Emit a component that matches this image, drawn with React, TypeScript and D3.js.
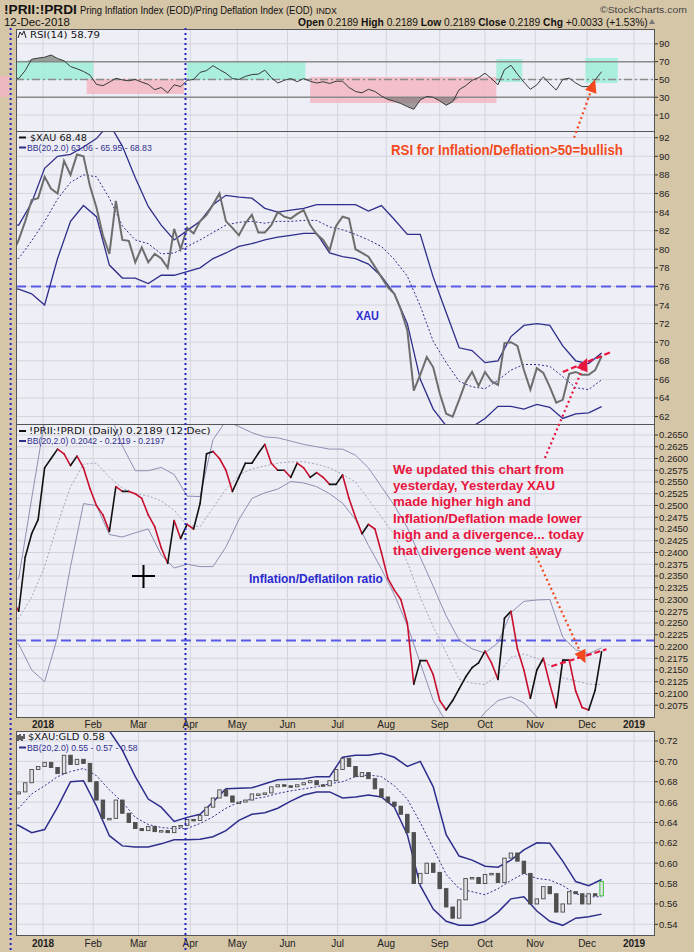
import React, { useEffect, useRef } from "react";
import * as d3 from "d3";

// sample dates: closes every 4 days, bands every 8 days
const priceDays = d3.timeDay.range(new Date(2017, 11, 13), new Date(2018, 11, 13), 4);
const bandDays = d3.timeDay.range(new Date(2017, 11, 9), new Date(2018, 11, 13), 8);

// RSI(14) of !PRII:!PRDI
const rsi = [
  53, 51, 60, 72.7, 74, 75, 77.5, 73.5, 71, 64.5,
  62, 59, 55, 44.5, 43, 47, 51.3, 49.5, 48.5, 50,
  47, 44.5, 38.5, 41, 35, 44, 42, 49, 50, 58,
  60, 65.5, 61, 57, 51, 50, 53.5, 55.5, 56, 60.5,
  52, 46, 49, 51, 47.5, 51, 48, 46, 47.5, 45.5,
  48, 48, 41, 36.5, 35, 39, 36.5, 31.5, 27.5, 25.5,
  23, 19.5, 16.5, 27, 31, 30, 26, 21, 25, 38.5,
  43, 49, 52, 57, 51, 44, 61, 66, 56, 47,
  39, 44, 53, 45, 38.2, 50, 51.5, 46, 42, 42,
  49.4, 58.79,
];

// $XAU close + BB(20,2)
const xau = [
  79.5, 81, 83, 85.3, 85.5, 87.8, 86.5, 86, 89.5, 88,
  90.2, 90, 86.8, 84.5, 81.5, 79.5, 85.2, 81, 80.9, 78.6,
  80.2, 78.6, 79.5, 79, 78, 82.2, 80, 82.3, 81.7, 83,
  83.7, 84.8, 86, 83, 82.3, 81.5, 82.8, 83.7, 81.8, 81.8,
  82.6, 84, 83.5, 83.3, 83.8, 84.2, 82.6, 81.6, 81, 79.9,
  82.5, 83.5, 83.3, 80, 79.6, 79.2, 78.1, 77, 75.9, 75.2,
  73.5, 71.3, 64.8, 66.5, 68.4, 67.3, 64.5, 62.3, 62, 63.8,
  65.7, 66.8, 65.3, 66.8, 65.8, 65.4, 69.9, 70, 69.6, 67,
  64.9, 67.2, 66.7, 65.2, 63.5, 63.8, 66.6, 66.8, 66.5, 66.5,
  67, 68.48,
];
const xauUpper = [
  82.6, 82.6, 85, 88.7, 90, 90.2, 91, 91.9, 93.5, 91.1,
  87.7, 84.6, 82.6, 81, 82, 83, 84.8, 85.8, 85.6, 85.5,
  84.4, 84, 84.2, 84.4, 84.8, 84.8, 84.8, 84.8, 84.1, 84.7,
  83.2, 81.6, 81.6, 77, 73.2, 69.4, 69.1, 67.8, 68, 70.6,
  71.8, 72, 71.8, 69.6, 68, 67.7, 68.83,
];
const xauMid = [
  79.2, 79, 80.9, 83, 85.4, 87.2, 88, 87.8, 85.5, 82.5,
  81, 80.6, 79.5, 79.6, 80.3, 81, 81.8, 82.6, 82.9, 83,
  82.8, 83, 83, 83.1, 83.1, 82.4, 82.1, 81.6, 81, 80.3,
  78.9, 77.1, 73.9, 70.1, 67.8, 65.8, 65.2, 65, 65.9, 67,
  67.6, 67.6, 67.4, 66.3, 65.1, 64.9, 65.95,
];
const xauLower = [
  75.8, 75.7, 75.2, 74, 79, 83, 84.7, 83.5, 78.3, 76.9,
  76.9, 76.3, 77.2, 77.2, 77.6, 78, 79, 79.6, 80.3, 80.6,
  81, 81.3, 81.5, 81.7, 81.7, 79.6, 79.2, 79, 78.4, 77.1,
  75.2, 72, 66, 62.8, 61, 60.8, 60.9, 61.8, 63.1, 63.1,
  62.8, 63.3, 63, 61.8, 62.3, 62.4, 63.06,
];

// !PRII:!PRDI close + BB(20,2)
const prii = [
  0.23, 0.2275, 0.239, 0.244, 0.247, 0.258, 0.26, 0.262, 0.261, 0.2585,
  0.2605, 0.258, 0.2536, 0.25, 0.248, 0.2445, 0.254, 0.253, 0.253, 0.2525,
  0.2515, 0.248, 0.2455, 0.241, 0.2377, 0.2468, 0.243, 0.246, 0.245, 0.2504,
  0.261, 0.2615, 0.26, 0.2575, 0.253, 0.256, 0.259, 0.259, 0.2611, 0.263,
  0.259, 0.2575, 0.2575, 0.256, 0.259, 0.258, 0.256, 0.257, 0.256, 0.2545,
  0.2545, 0.2565, 0.2515, 0.2475, 0.244, 0.246, 0.245, 0.24, 0.2345, 0.232,
  0.23, 0.225, 0.212, 0.217, 0.217, 0.214, 0.2085, 0.2065, 0.2085, 0.211,
  0.2135, 0.2155, 0.2165, 0.219, 0.2165, 0.213, 0.226, 0.2275, 0.2195, 0.215,
  0.209, 0.215, 0.2175, 0.212, 0.207, 0.2171, 0.2171, 0.2105, 0.207, 0.2065,
  0.2107, 0.2189,
];
const priiUpper = [
  0.233, 0.2345, 0.2515, 0.268, 0.272, 0.274, 0.274, 0.273, 0.27, 0.2627,
  0.2574, 0.2574, 0.2581, 0.2566, 0.252, 0.2519, 0.264, 0.268, 0.2668, 0.2655,
  0.2646, 0.2644, 0.2637, 0.263, 0.2625, 0.262, 0.262, 0.2607, 0.258, 0.254,
  0.25, 0.2453, 0.239, 0.2328, 0.2265, 0.2214, 0.2195, 0.2186, 0.2208, 0.2272,
  0.2296, 0.2299, 0.23, 0.222, 0.2193, 0.2185, 0.2197,
];
const priiMid = [
  0.2263, 0.226, 0.2305, 0.237, 0.246, 0.254, 0.2588, 0.259, 0.256, 0.2537,
  0.2525, 0.252, 0.251, 0.249, 0.2458, 0.2455, 0.2495, 0.2535, 0.2565, 0.2578,
  0.2584, 0.259, 0.2593, 0.2593, 0.2588, 0.258, 0.2566, 0.255, 0.2513, 0.2475,
  0.2438, 0.238, 0.2305, 0.2242, 0.2187, 0.213, 0.2122, 0.2119, 0.214, 0.2177,
  0.2184, 0.2175, 0.216, 0.2133, 0.2127, 0.212, 0.2119,
];
const priiLower = [
  0.2215, 0.2205, 0.215, 0.2125, 0.222, 0.237, 0.2504, 0.25, 0.2438, 0.2433,
  0.2442, 0.245, 0.2395, 0.2367, 0.2375, 0.237, 0.237, 0.2412, 0.247, 0.2515,
  0.2527, 0.2535, 0.2551, 0.2548, 0.254, 0.2525, 0.2505, 0.247, 0.2415, 0.2365,
  0.231, 0.2245, 0.2165, 0.2085, 0.204, 0.202, 0.2025, 0.206, 0.2085, 0.2093,
  0.208, 0.205, 0.2035, 0.203, 0.2035, 0.2038, 0.2042,
];

// $XAU:GLD close + BB(20,2)
const gld = [
  0.668, 0.67, 0.679, 0.692, 0.695, 0.699, 0.694, 0.688, 0.706, 0.697,
  0.702, 0.698, 0.68, 0.662, 0.644, 0.644, 0.662, 0.649, 0.64, 0.634,
  0.632, 0.636, 0.631, 0.632, 0.63, 0.636, 0.637, 0.643, 0.642, 0.647,
  0.655, 0.664, 0.672, 0.666, 0.66, 0.66, 0.662, 0.668, 0.668, 0.669,
  0.675, 0.677, 0.676, 0.675, 0.677, 0.679, 0.681, 0.677, 0.676, 0.681,
  0.692, 0.703, 0.695, 0.685, 0.689, 0.683, 0.673, 0.665, 0.66, 0.656,
  0.648, 0.63, 0.58, 0.59, 0.6, 0.591, 0.575, 0.557, 0.546, 0.564,
  0.585, 0.586, 0.58, 0.589, 0.59, 0.581, 0.605, 0.61, 0.602, 0.59,
  0.56, 0.565, 0.577, 0.57, 0.552, 0.56, 0.572, 0.57, 0.56, 0.57,
  0.568, 0.582,
];
const gldUpper = [
  0.76, 0.765, 0.77, 0.77, 0.775, 0.775, 0.77, 0.755, 0.73, 0.711,
  0.685, 0.663, 0.655, 0.641, 0.645, 0.648, 0.66, 0.673, 0.6735, 0.674,
  0.678, 0.682, 0.6825, 0.683, 0.685, 0.685, 0.704, 0.706, 0.706, 0.708,
  0.704, 0.695, 0.7, 0.675, 0.628, 0.607, 0.603, 0.597, 0.596, 0.603,
  0.613, 0.62, 0.6195, 0.602, 0.582, 0.578, 0.584,
];
const gldMid = [
  0.656, 0.654, 0.668, 0.676, 0.685, 0.69, 0.693, 0.686, 0.672, 0.66,
  0.645, 0.638, 0.635, 0.634, 0.634, 0.639, 0.6455, 0.654, 0.66, 0.663,
  0.665, 0.6685, 0.671, 0.673, 0.675, 0.678, 0.68, 0.685, 0.6866, 0.685,
  0.676, 0.663, 0.64, 0.6146, 0.589, 0.575, 0.572, 0.569, 0.575, 0.583,
  0.59, 0.585, 0.5835, 0.578, 0.57, 0.567, 0.567,
];
const gldLower = [
  0.64, 0.637, 0.63, 0.633, 0.655, 0.68, 0.681, 0.656, 0.627, 0.617,
  0.616, 0.616, 0.619, 0.623, 0.623, 0.6235, 0.626, 0.632, 0.642, 0.648,
  0.6495, 0.654, 0.661, 0.667, 0.67, 0.67, 0.664, 0.665, 0.667, 0.665,
  0.655, 0.628, 0.578, 0.555, 0.543, 0.539, 0.539, 0.543, 0.552, 0.565,
  0.567, 0.553, 0.543, 0.539, 0.546, 0.5475, 0.55,
];

// shaded RSI regimes drawn by the chartist
const rsiZones = [
  { from: "2017-12-05", to: "2017-12-11", lo: 30.3, hi: 54, tone: "bear" },
  { from: "2017-12-15", to: "2018-02-01", lo: 49.4, hi: 71.1, tone: "bull" },
  { from: "2018-01-28", to: "2018-03-29", lo: 33.7, hi: 50.6, tone: "bear" },
  { from: "2018-03-31", to: "2018-06-12", lo: 49.4, hi: 70.8, tone: "bull" },
  { from: "2018-06-15", to: "2018-10-08", lo: 23.6, hi: 52.8, tone: "bear" },
  { from: "2018-10-08", to: "2018-10-24", lo: 47.2, hi: 73, tone: "bull" },
  { from: "2018-12-02", to: "2018-12-22", lo: 46, hi: 74.2, tone: "bull" },
];

const rsiTicks = [10, 30, 50, 70, 90];
const xauTicks = d3.range(62, 93, 2);
const priiTicks = d3.range(83, 107).map((i) => i / 400);
const gldTicks = d3.range(27, 37).map((i) => i / 50);

const noteLines = [
  "We updated this chart from",
  "yesterday, Yesterday XAU",
  "made higher high and",
  "Inflation/Deflation made lower",
  "high and a divergence... today",
  "that divergence went away",
];

const parse = d3.timeParse("%Y-%m-%d");

export default function App() {
  const svgRef = useRef<SVGSVGElement>(null);

  useEffect(() => {
    const svg = d3.select(svgRef.current);
    svg.selectAll("*").remove();

    const W = 694, H = 952, L = 16, R = 655;
    const SANS = "'Liberation Sans', Arial, sans-serif";
    const NARROW = "'Liberation Sans Narrow', 'Liberation Sans', Arial, sans-serif";
    const VERD = "'DejaVu Sans', Verdana, sans-serif";
    const ORANGE = "#f24a1c";
    const CRIMSON = "#e8163e";
    const BLUE = "#2a2ad0";
    const NAVY = "#2e2e8c";

    const x = d3.scaleTime().domain([new Date(2018, 0, 1), new Date(2019, 0, 1)]).range([43, 634]);
    const yR = d3.scaleLinear().domain([-7.9, 106.7]).range([131, 29]);
    const yX = d3.scaleLinear().domain([61.2, 92.72]).range([424, 131]);
    const yP = d3.scaleLinear().domain([0.205, 0.26734]).range([717, 424]);
    const yG = d3.scaleLinear().domain([0.5295, 0.7298]).range([935, 731]);

    // month grid on first weekday of every month
    const months = d3.timeMonth.range(new Date(2018, 0, 1), new Date(2019, 0, 2)).map((d) => {
      let t = d;
      while (t.getDay() === 0 || t.getDay() === 6) t = d3.timeDay.offset(t, 1);
      return t;
    });
    const isYear = (d: Date, i: number) => i === 0 || d.getMonth() === 0;
    const monthLabel = (d: Date, i: number) =>
      isYear(d, i) ? String(d.getFullYear()) : d3.timeFormat("%b")(d);

    svg.append("rect").attr("width", W).attr("height", H).attr("fill", "#d6c6a8");
    const defs = svg.append("defs");

    const panels = [
      { id: "rsi", y: yR, ticks: rsiTicks, fmt: d3.format("d") },
      { id: "xau", y: yX, ticks: xauTicks, fmt: d3.format("d") },
      { id: "prii", y: yP, ticks: priiTicks, fmt: d3.format(".4f") },
      { id: "gld", y: yG, ticks: gldTicks, fmt: d3.format(".2f") },
    ];

    panels.forEach((p) => {
      const [b, t] = p.y.range();
      defs.append("clipPath").attr("id", "clip-" + p.id)
        .append("rect").attr("x", L).attr("y", t).attr("width", R - L).attr("height", b - t);
      svg.append("rect").attr("x", L).attr("y", t).attr("width", R - L).attr("height", b - t)
        .attr("fill", "#eeeef6");
      const g = svg.append("g");
      g.selectAll("line.v").data(months).join("line")
        .attr("x1", (d) => x(d)).attr("x2", (d) => x(d)).attr("y1", t).attr("y2", b)
        .attr("stroke", "#d4d4dc").attr("stroke-width", 1);
      g.selectAll("line.h").data(p.ticks).join("line")
        .attr("x1", L).attr("x2", R).attr("y1", (d) => p.y(d)).attr("y2", (d) => p.y(d))
        .attr("stroke", "#d4d4dc").attr("stroke-width", 1);
      // right axis
      const a = svg.append("g");
      a.selectAll("line").data(p.ticks).join("line")
        .attr("x1", R).attr("x2", R + 3).attr("y1", (d) => p.y(d)).attr("y2", (d) => p.y(d))
        .attr("stroke", "#333");
      a.selectAll("text").data(p.ticks).join("text")
        .attr("x", R + 4).attr("y", (d) => p.y(d) + 3.5)
        .attr("font-family", SANS).attr("font-size", 9.5).attr("fill", "#222")
        .text((d) => p.fmt(d));
    });

    const line = (ys: d3.ScaleLinear<number, number>, days: Date[]) =>
      d3.line<number>().x((_, i) => x(days[i])).y((d) => ys(d));

    // ---------- RSI panel ----------
    svg.append("g").selectAll("rect").data(rsiZones).join("rect")
      .attr("x", (d) => x(parse(d.from)!))
      .attr("width", (d) => x(parse(d.to)!) - x(parse(d.from)!))
      .attr("y", (d) => yR(d.hi))
      .attr("height", (d) => yR(d.lo) - yR(d.hi))
      .attr("fill", (d) => (d.tone === "bull" ? "#9eeed8" : "#f2b6c2"))
      .attr("opacity", 0.85);

    const rg = svg.append("g").attr("clip-path", "url(#clip-rsi)");
    [70, 30].forEach((v) =>
      rg.append("line").attr("x1", L).attr("x2", R).attr("y1", yR(v)).attr("y2", yR(v))
        .attr("stroke", "#8c8c8c").attr("stroke-width", 1.5));
    rg.append("line").attr("x1", L).attr("x2", R).attr("y1", yR(50)).attr("y2", yR(50))
      .attr("stroke", "#8c8c8c").attr("stroke-width", 1.5).attr("stroke-dasharray", "8,3,2,3");
    rg.append("path").datum(rsi)
      .attr("d", d3.area<number>().x((_, i) => x(priceDays[i])).y0(yR(70)).y1((d) => yR(Math.max(d, 70))))
      .attr("fill", "#7d877f").attr("opacity", 0.75);
    rg.append("path").datum(rsi)
      .attr("d", d3.area<number>().x((_, i) => x(priceDays[i])).y0(yR(30)).y1((d) => yR(Math.min(d, 30))))
      .attr("fill", "#877d7d").attr("opacity", 0.75);
    rg.append("path").datum(rsi).attr("d", line(yR, priceDays))
      .attr("fill", "none").attr("stroke", "#3a3a3a").attr("stroke-width", 1);

    // ---------- XAU panel ----------
    const xg = svg.append("g").attr("clip-path", "url(#clip-xau)");
    xg.append("line").attr("x1", L).attr("x2", R).attr("y1", yX(76)).attr("y2", yX(76))
      .attr("stroke", "#5a5ae8").attr("stroke-width", 2).attr("stroke-dasharray", "10,5");
    [xauUpper, xauLower].forEach((s) =>
      xg.append("path").datum(s).attr("d", line(yX, bandDays))
        .attr("fill", "none").attr("stroke", NAVY).attr("stroke-width", 1.3));
    xg.append("path").datum(xauMid).attr("d", line(yX, bandDays))
      .attr("fill", "none").attr("stroke", NAVY).attr("stroke-width", 1).attr("stroke-dasharray", "2,2");
    xg.append("path").datum(xau).attr("d", line(yX, priceDays))
      .attr("fill", "none").attr("stroke", "#6e6e6e").attr("stroke-width", 2);

    // ---------- PRII panel ----------
    const pg = svg.append("g").attr("clip-path", "url(#clip-prii)");
    pg.append("line").attr("x1", L).attr("x2", R).attr("y1", yP(0.2213)).attr("y2", yP(0.2213))
      .attr("stroke", "#5a5ae8").attr("stroke-width", 2).attr("stroke-dasharray", "10,5");
    [priiUpper, priiLower].forEach((s) =>
      pg.append("path").datum(s).attr("d", line(yP, bandDays))
        .attr("fill", "none").attr("stroke", "#8f8fb4").attr("stroke-width", 1));
    pg.append("path").datum(priiMid).attr("d", line(yP, bandDays))
      .attr("fill", "none").attr("stroke", "#a4a4c4").attr("stroke-width", 1).attr("stroke-dasharray", "2,2");
    pg.selectAll("line.seg").data(d3.pairs(prii.map((v, i) => ({ v, d: priceDays[i] })))).join("line")
      .attr("x1", (p) => x(p[0].d)).attr("y1", (p) => yP(p[0].v))
      .attr("x2", (p) => x(p[1].d)).attr("y2", (p) => yP(p[1].v))
      .attr("stroke", (p) => (p[1].v < p[0].v ? "#c8102e" : "#111"))
      .attr("stroke-width", 1.6).attr("stroke-linecap", "round");

    // ---------- XAU:GLD panel ----------
    const gg = svg.append("g").attr("clip-path", "url(#clip-gld)");
    [gldUpper, gldLower].forEach((s) =>
      gg.append("path").datum(s).attr("d", line(yG, bandDays))
        .attr("fill", "none").attr("stroke", NAVY).attr("stroke-width", 1.5));
    gg.append("path").datum(gldMid).attr("d", line(yG, bandDays))
      .attr("fill", "none").attr("stroke", NAVY).attr("stroke-width", 1).attr("stroke-dasharray", "2,2");
    const opn = (i: number) => (i === 0 ? gld[0] : gld[i - 1]);
    gg.selectAll("rect.c").data(gld).join("rect")
      .attr("x", (_, i) => x(priceDays[i]) - 1.75).attr("width", 3.5)
      .attr("y", (d, i) => yG(Math.max(d, opn(i))))
      .attr("height", (d, i) => Math.max(1.5, Math.abs(yG(d) - yG(opn(i)))))
      .attr("fill", (d, i) => (d >= opn(i) ? "#e2e2e6" : "#505050"))
      .attr("stroke", (_, i) => (i === gld.length - 1 ? "#2fbf2f" : "#4a4a4a"))
      .attr("stroke-width", 0.9);

    // panel borders
    panels.forEach((p) => {
      const [b, t] = p.y.range();
      svg.append("rect").attr("x", L + 0.5).attr("y", t + 0.5).attr("width", R - L - 1).attr("height", b - t)
        .attr("fill", "none").attr("stroke", "#555").attr("stroke-width", 1);
    });

    // month labels between panels and at the bottom
    [728, 947].forEach((yy) => {
      svg.append("g").selectAll("text").data(months).join("text")
        .attr("x", (d) => x(d)).attr("y", yy).attr("text-anchor", "middle")
        .attr("font-family", SANS).attr("font-size", 10).attr("fill", "#222")
        .attr("font-weight", (d, i) => (isYear(d, i) ? "bold" : "normal"))
        .text((d, i) => monthLabel(d, i));
    });

    // blue dotted vertical markers
    ["2017-12-12", "2018-03-30"].forEach((s) => {
      const xx = x(parse(s)!);
      svg.append("line").attr("x1", xx).attr("x2", xx).attr("y1", 28).attr("y2", H)
        .attr("stroke", "#2323c4").attr("stroke-width", 2).attr("stroke-dasharray", "2,3");
    });

    // squeeze a text horizontally to the width it has in the screenshot
    const fit = (t: d3.Selection<SVGTextElement, unknown, null, undefined>, xx: number, w: number) => {
      const n = t.node()!.getComputedTextLength();
      if (n > 0) t.attr("transform", `translate(${xx},0) scale(${w / n},1) translate(${-xx},0)`);
    };
    const txt = (s: string, xx: number, yy: number, size: number, opts: any = {}) => {
      const t = svg.append("text").attr("x", xx).attr("y", yy)
        .attr("font-family", opts.family || NARROW).attr("font-size", size)
        .attr("font-weight", opts.bold ? "bold" : "normal").attr("fill", opts.fill || "#111")
        .text(s);
      if (opts.w) fit(t, xx, opts.w);
      return t;
    };

    // ---------- header ----------
    txt("!PRII:!PRDI", 4, 14, 12, { bold: true, w: 73 });
    txt("Pring Inflation Index (EOD)/Pring Deflation Index (EOD)", 80, 14, 10.5, { w: 233 });
    txt("INDX", 316, 14, 9, { w: 21 });
    txt("©StockCharts.com", 600, 13, 9.5, { w: 87, fill: "#444" });
    txt("12-Dec-2018", 4, 26.5, 10, { w: 66 });
    const ohlc = svg.append("text").attr("x", 298).attr("y", 26.5).attr("font-family", NARROW)
      .attr("font-size", 10.5).attr("fill", "#111");
    [["Open", true], [" 0.2189 ", false], ["High", true], [" 0.2189 ", false], ["Low", true],
      [" 0.2189 ", false], ["Close", true], [" 0.2189 ", false], ["Chg", true], [" +0.0033 (+1.53%)", false]]
      .forEach(([s, b]) => ohlc.append("tspan").attr("font-weight", b ? "bold" : "normal").text(s as string));
    fit(ohlc, 298, 350);
    svg.append("path").attr("d", "M649,24 L652,19 L655,24 Z").attr("fill", "#777");

    // ---------- legends ----------
    svg.append("path").attr("d", "M18,38 L20,32 L22,35 L24,31 L26,38").attr("fill", "none")
      .attr("stroke", "#222").attr("stroke-width", 1);
    txt("RSI(14) 58.79", 30, 38, 9.5, { family: VERD, w: 70 });

    const dash = (yy: number, c: string) =>
      svg.append("line").attr("x1", 19).attr("x2", 26).attr("y1", yy).attr("y2", yy)
        .attr("stroke", c).attr("stroke-width", 2);
    dash(137.5, "#111");
    txt("$XAU 68.48", 30, 141, 9, { family: VERD, w: 57 });
    dash(147.5, NAVY);
    txt("BB(20,2.0) 63.06 - 65.95 - 68.83", 27, 151, 8.5, { family: SANS, w: 125, fill: NAVY });

    dash(431, "#111");
    txt("!PRII:!PRDI (Daily) 0.2189 (12 Dec)", 29, 434.5, 9, { family: VERD, w: 182 });
    dash(441, NAVY);
    txt("BB(20,2.0) 0.2042 - 0.2119 - 0.2197", 27, 444.5, 8.5, { family: SANS, w: 138, fill: NAVY });

    svg.append("path").attr("d", "M18,735 V741 M20,734 V740 M22,736 V741 M24,734 V739")
      .attr("stroke", "#222").attr("stroke-width", 1.4);
    txt("$XAU:GLD 0.58", 28, 740.5, 9, { family: VERD, w: 77 });
    dash(747.5, NAVY);
    txt("BB(20,2.0) 0.55 - 0.57 - 0.58", 27, 751, 8.5, { family: SANS, w: 111, fill: NAVY });

    // ---------- annotations ----------
    const ann = svg.append("g");
    const P = (s: string, ys: d3.ScaleLinear<number, number>, v: number): [number, number] => [x(parse(s)!), ys(v)];
    const pointer = (from: [number, number], tip: [number, number], color: string) => {
      const dx = tip[0] - from[0], dy = tip[1] - from[1];
      const len = Math.hypot(dx, dy), ux = dx / len, uy = dy / len;
      const hl = 13, hw = 6;
      const bx = tip[0] - ux * hl, by = tip[1] - uy * hl;
      ann.append("line").attr("x1", from[0]).attr("y1", from[1]).attr("x2", bx).attr("y2", by)
        .attr("stroke", color).attr("stroke-width", 2.2).attr("stroke-dasharray", "2,3");
      ann.append("path")
        .attr("d", `M${tip[0]},${tip[1]}L${bx - uy * hw},${by + ux * hw}L${bx + uy * hw},${by - ux * hw}Z`)
        .attr("fill", color);
    };
    const trend = (a: [number, number], b: [number, number]) =>
      ann.append("line").attr("x1", a[0]).attr("y1", a[1]).attr("x2", b[0]).attr("y2", b[1])
        .attr("stroke", CRIMSON).attr("stroke-width", 2.2).attr("stroke-dasharray", "6,3");

    pointer(P("2018-11-25", yX, 92), P("2018-12-08", yR, 50), ORANGE);
    trend(P("2018-11-18", yX, 66.8), P("2018-12-18", yX, 68.95));
    pointer(P("2018-11-07", yP, 0.2601), P("2018-12-03", yX, 68.3), CRIMSON);
    trend(P("2018-11-11", yP, 0.2158), P("2018-12-15", yP, 0.2194));
    pointer(P("2018-10-30", yP, 0.24115), P("2018-12-02", yP, 0.21645), ORANGE);

    txt("RSI for Inflation/Deflation>50=bullish", 391, 155, 14, { family: SANS, bold: true, w: 232, fill: ORANGE });
    txt("XAU", 356, 320, 12.5, { family: SANS, bold: true, w: 23, fill: BLUE });
    txt("Inflation/Deflatilon ratio", 249, 583, 12.5, { family: SANS, bold: true, w: 134, fill: BLUE });
    const widths = [171, 162, 138, 189, 191, 169];
    noteLines.forEach((s, i) =>
      txt(s, 393, 474 + i * 16.2, 13.5, { family: SANS, bold: true, w: widths[i], fill: CRIMSON }));

    // cursor cross left in the screenshot
    svg.append("path").attr("d", "M132,576 H155 M143.5,565 V588").attr("stroke", "#000").attr("stroke-width", 2);
  }, []);

  return (
    <svg
      ref={svgRef}
      width={694}
      height={952}
      style={{ position: "absolute", left: 0, top: 0, display: "block" }}
    />
  );
}
